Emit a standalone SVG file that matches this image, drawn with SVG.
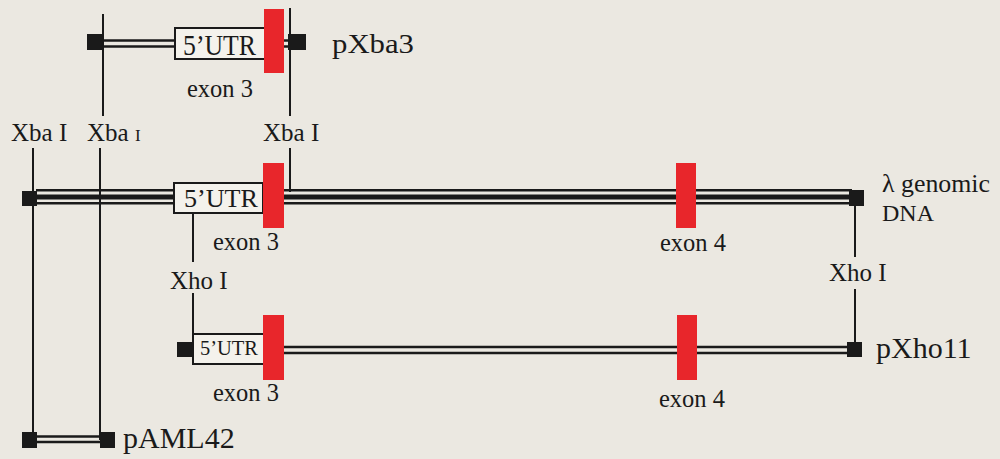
<svg xmlns="http://www.w3.org/2000/svg" width="1000" height="459" viewBox="0 0 1000 459" font-family="'Liberation Serif','Times New Roman',serif">
<style>
text{font-family:"Liberation Serif","Times New Roman",serif;fill:#1a1a1a}
.lbl{font-size:25px}
.ex{font-size:24.5px}
.big{font-size:30px}
.box{fill:#f4f2ec;stroke:#1a1a1a;stroke-width:2}
.exon{fill:#e8262b}
.blk{fill:#1a1a1a}
.ln{stroke:#1a1a1a;fill:none;stroke-width:2}
.dl{stroke:#1a1a1a;fill:none;stroke-width:2.5}
</style>
<rect width="1000" height="459" fill="#ebe8e1"/>
<g id="connectors">
<line class="ln" x1="103" y1="14" x2="103" y2="116"/>
<line class="ln" x1="290" y1="8" x2="290" y2="116"/>
<line class="ln" x1="33" y1="148" x2="33" y2="440"/>
<line class="ln" x1="100" y1="148" x2="100" y2="440"/>
<line class="ln" x1="290" y1="148" x2="290" y2="192"/>
<line class="ln" x1="193" y1="213" x2="193" y2="262"/>
<line class="ln" x1="193" y1="293" x2="193" y2="336"/>
<line class="ln" x1="855" y1="206" x2="855" y2="257"/>
<line class="ln" x1="855" y1="289" x2="855" y2="344"/>
</g>
<g id="pXba3">
<line class="dl" x1="103" y1="40.5" x2="176" y2="40.5"/>
<line class="dl" x1="103" y1="46.5" x2="176" y2="46.5"/>
<line class="dl" x1="284" y1="40.5" x2="289" y2="40.5"/>
<line class="dl" x1="284" y1="46.5" x2="289" y2="46.5"/>
<rect class="blk" x="87" y="34" width="16" height="16"/>
<rect class="blk" x="288" y="34" width="18" height="16"/>
<rect class="box" x="175" y="28" width="90" height="31"/>
<text x="183" y="55" font-size="30" textLength="73" lengthAdjust="spacingAndGlyphs">5’UTR</text>
<rect class="exon" x="264" y="9" width="20" height="64"/>
<text class="ex" x="187" y="97">exon 3</text>
<text x="332" y="53" font-size="27" textLength="82" lengthAdjust="spacingAndGlyphs">pXba3</text>
</g>
<g id="labels-xba">
<text class="lbl" x="11" y="141">Xba I</text>
<text class="lbl" x="87" y="141">Xba <tspan font-size="17">I</tspan></text>
<text class="lbl" x="263" y="141">Xba I</text>
</g>
<g id="genomic">
<rect class="blk" x="36" y="189" width="816" height="2.5"/>
<rect class="blk" x="36" y="194.5" width="816" height="5"/>
<rect class="blk" x="36" y="202" width="816" height="2.5"/>
<rect class="blk" x="22" y="191" width="15" height="15"/>
<rect class="blk" x="849" y="190" width="15" height="16"/>
<rect class="box" x="174" y="183" width="89" height="30"/>
<text x="184" y="207" font-size="25" textLength="74" lengthAdjust="spacingAndGlyphs">5’UTR</text>
<rect class="exon" x="263" y="163" width="21" height="65"/>
<rect class="exon" x="676" y="163" width="20" height="65"/>
<text class="ex" x="213" y="250">exon 3</text>
<text class="ex" x="660" y="251">exon 4</text>
<text x="882" y="192" font-size="25" textLength="108" lengthAdjust="spacingAndGlyphs">λ genomic</text>
<text x="882" y="221" font-size="24">DNA</text>
</g>
<g id="labels-xho">
<text class="lbl" x="170" y="289">Xho I</text>
<text class="lbl" x="829" y="281">Xho I</text>
</g>
<g id="pXho11">
<line class="dl" x1="284" y1="347" x2="848" y2="347"/>
<line class="dl" x1="284" y1="353" x2="848" y2="353"/>
<rect class="blk" x="177" y="342" width="15" height="15"/>
<rect class="blk" x="847" y="342" width="15" height="15"/>
<rect class="box" x="193" y="334" width="71" height="30"/>
<text x="200" y="355" font-size="21" textLength="58" lengthAdjust="spacingAndGlyphs">5’UTR</text>
<rect class="exon" x="263" y="315" width="21" height="65"/>
<rect class="exon" x="677" y="315" width="20" height="65"/>
<text class="ex" x="213" y="401">exon 3</text>
<text class="ex" x="659" y="407">exon 4</text>
<text class="big" x="876" y="358">pXho11</text>
</g>
<g id="pAML42">
<line class="dl" x1="36" y1="436.5" x2="101" y2="436.5"/>
<line class="dl" x1="36" y1="442" x2="101" y2="442"/>
<rect class="blk" x="22" y="432" width="15" height="16"/>
<rect class="blk" x="100" y="432" width="15" height="16"/>
<text class="big" x="123" y="448">pAML42</text>
</g>
</svg>
